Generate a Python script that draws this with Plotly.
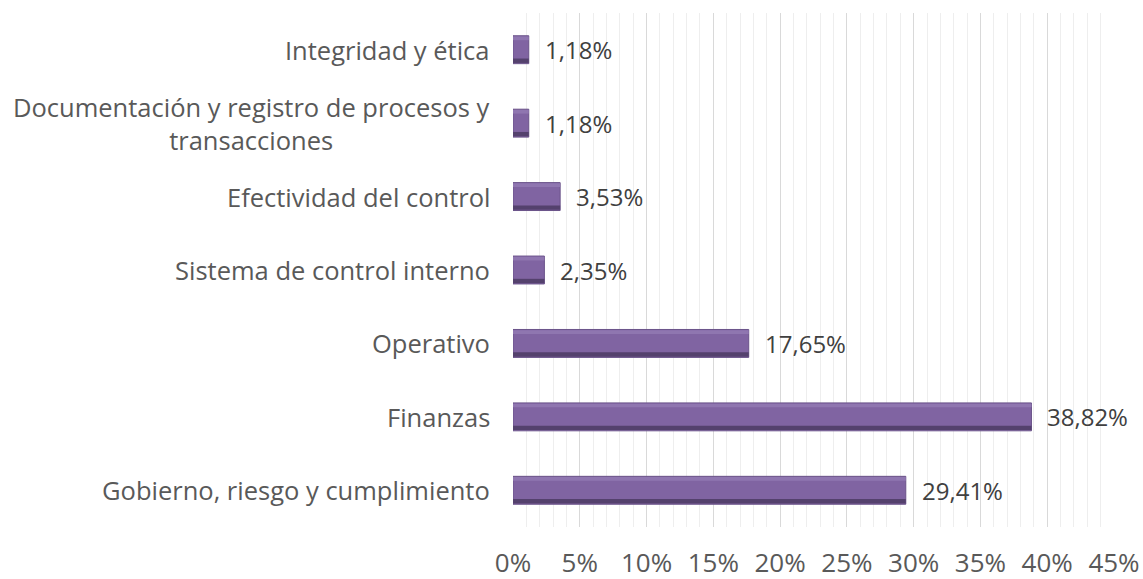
import plotly.graph_objects as go

categories = [
    "Gobierno, riesgo y cumplimiento",
    "Finanzas",
    "Operativo",
    "Sistema de control interno",
    "Efectividad del control",
    "Documentación y registro de procesos y<br>transacciones",
    "Integridad y ética",
]
values = [29.41, 38.82, 17.65, 2.35, 3.53, 1.18, 1.18]
tick_values = [0, 5, 10, 15, 20, 25, 30, 35, 40, 45]
tick_labels = [f"{v}%" for v in tick_values]
data_labels = [f"{v:.2f}%".replace(".", ",") for v in values]

FONT = "Open Sans"
ypos = list(range(len(categories)))
BW = 0.38

fig = go.Figure()
# main bar body
fig.add_trace(go.Bar(
    x=values, y=ypos, orientation="h",
    marker=dict(color="#8064a2", line=dict(color="#6a5389", width=1)),
    width=BW, hoverinfo="skip",
))
# light top bevel
fig.add_trace(go.Bar(
    x=values, y=ypos, orientation="h",
    marker=dict(color="#8f76b0", line=dict(width=0)),
    width=0.05, offset=BW / 2 - 0.06, hoverinfo="skip",
))
# dark bottom bevel
fig.add_trace(go.Bar(
    x=values, y=ypos, orientation="h",
    marker=dict(color="#54416d", line=dict(width=0)),
    width=0.06, offset=-BW / 2 + 0.01, hoverinfo="skip",
))

for i, c in enumerate(categories):
    fig.add_annotation(
        x=0, xref="paper", xshift=-21,
        y=i, yref="y",
        text=c, showarrow=False,
        xanchor="right", yanchor="middle", align="center",
        font=dict(family=FONT, size=25.5, color="#595959"),
    )
    fig.add_annotation(
        x=values[i], xref="x", xshift=14,
        y=i, yref="y",
        text=data_labels[i], showarrow=False,
        xanchor="left", yanchor="middle",
        font=dict(family=FONT, size=24, color="#404040"),
    )

fig.update_layout(
    width=1143, height=579,
    margin=dict(l=513, r=29, t=13, b=52, autoexpand=False),
    plot_bgcolor="white", paper_bgcolor="white",
    showlegend=False,
    barmode="overlay",
    xaxis=dict(
        range=[0, 45],
        tickvals=tick_values, ticktext=tick_labels,
        showgrid=True, gridcolor="#d9d9d9", gridwidth=1,
        minor=dict(dtick=1, showgrid=True, gridcolor="#eeeeee", gridwidth=1),
        zeroline=False, showline=False,
        tickfont=dict(family=FONT, size=26, color="#595959"),
        ticklabelstandoff=18,
        automargin=False,
        fixedrange=True,
    ),
    yaxis=dict(
        range=[-0.5, len(categories) - 0.5],
        showticklabels=False, showgrid=False, zeroline=False,
        showline=False, automargin=False, fixedrange=True,
    ),
)

fig.write_html(
    "out.html",
    config={"displayModeBar": False},
    post_script="document.body.style.margin='0';document.body.style.overflow='hidden';",
)
